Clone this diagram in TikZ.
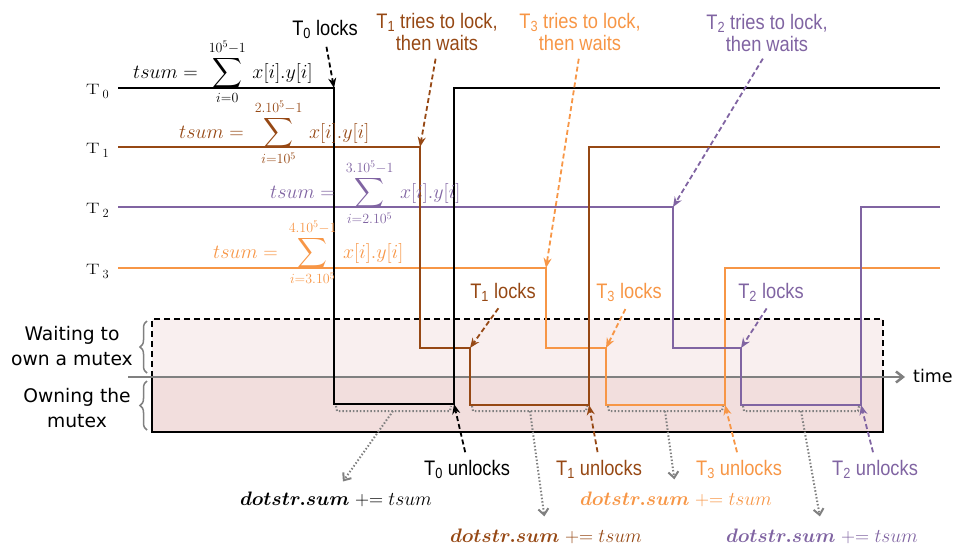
\RequirePackage{fix-cm}
\documentclass[tikz,border=0pt]{standalone}
\usepackage{amsmath}
\usepackage{bm}
\usepackage{fontspec}
\usetikzlibrary{arrows.meta,decorations.pathreplacing}
\newfontfamily\lblfont[FakeStretch=0.87]{Liberation Sans}
\newfontfamily\dvfont{DejaVu Sans}
\definecolor{tbrown}{HTML}{964814}
\definecolor{tpurple}{HTML}{8064A2}
\definecolor{torange}{HTML}{F79646}
\definecolor{waitfill}{HTML}{F9EFEF}
\definecolor{ownfill}{HTML}{F2DEDD}
\definecolor{axgray}{HTML}{808080}
\newcommand{\tlab}[1]{\scalebox{1.35}[1]{T}\hspace{3pt}\raisebox{-4pt}{\fontsize{12.5}{14}\selectfont #1}}
\newcommand{\dsumtxt}{$\bm{dotstr.sum}\mathrel{+}\mathrel{=}tsum$}
\begin{document}
\begin{tikzpicture}[x=1pt,y=-1pt,
  thr/.style={line width=2pt, line join=miter},
  lbl/.style={font=\lblfont\fontsize{21}{22}\selectfont, inner sep=0pt, align=center},
  lead/.style={line width=1.8pt, dash pattern=on 5pt off 3pt, -{Stealth[length=10pt,width=8pt]}, shorten <=8pt},
  dotbr/.style={axgray, line width=2pt, dash pattern=on 1.5pt off 2pt},
  dotarr/.style={dotbr, -{Straight Barb[length=6pt,width=10pt]}, shorten >=12pt},
  fml/.style={font=\fontsize{20}{24}\selectfont, inner sep=0pt, anchor=base west},
  dsum/.style={font=\fontsize{19.5}{22}\selectfont, inner sep=0pt, anchor=base},
  tlbl/.style={font=\fontsize{15}{16}\selectfont, anchor=base west, inner sep=0pt},
  sidelbl/.style={font=\dvfont\fontsize{18.7}{25}\selectfont, align=center, anchor=north, inner sep=0pt},
  brc/.style={axgray, line width=1.5pt, decorate, decoration={brace, amplitude=7pt}},
  axisln/.style={axgray, line width=2.5pt, -{Straight Barb[length=7pt,width=11pt]}, shorten >=8pt}
]
\useasboundingbox (0,0) rectangle (958,544);

% state boxes
\fill[waitfill] (152,319) rectangle (883,377);
\fill[ownfill] (152,377) rectangle (883,432);
\draw[line width=2pt, dash pattern=on 6pt off 4pt] (152,377) -- (152,319) -- (883,319) -- (883,377);
\draw[line width=2pt] (152,377) -- (152,432) -- (883,432) -- (883,377);

% braces and side labels
\draw[brc] (147,373) -- (147,321);
\draw[brc] (147,430) -- (147,381);
\node[sidelbl] (waitlbl) at (72,326) {Waiting to\\own a mutex};
\node[sidelbl] (ownlbl) at (77,388) {Owning the\\mutex};

% time axis
\coordinate (axs) at (128,377);
\node[font=\dvfont\fontsize{17.5}{20}\selectfont, anchor=base west, inner sep=0pt] (timelbl) at (913,382) {time};
\draw[axisln] (axs) -- (axs -| timelbl.west);

% corner coordinates
\coordinate (t0lock) at (334,88);
\coordinate (t0unl) at (454,404);
\coordinate (t1try) at (420,147);
\coordinate (t1lock) at (470,348);
\coordinate (t1unl) at (589,405);
\coordinate (t2try) at (673,207);
\coordinate (t2lock) at (741,348);
\coordinate (t2unl) at (861,405);
\coordinate (t3try) at (546,268);
\coordinate (t3lock) at (606,348);
\coordinate (t3unl) at (725,405);

% thread labels
\node[tlbl] (l0) at (86,94) {\tlab{0}};
\node[tlbl] (l1) at (86,153) {\tlab{1}};
\node[tlbl] (l2) at (86,213) {\tlab{2}};
\node[tlbl] (l3) at (86,274) {\tlab{3}};

% thread timelines
\draw[thr, torange] (118,268) -- (t3try) -- (t3lock -| t3try) -- (t3lock) -- (606,405) -- (t3unl) -- (725,268) -- (940,268);
\draw[thr, tpurple] (118,207) -- (t2try) -- (t2lock -| t2try) -- (t2lock) -- (741,405) -- (t2unl) -- (861,207) -- (940,207);
\draw[thr, tbrown] (118,147) -- (t1try) -- (t1lock -| t1try) -- (t1lock) -- (470,405) -- (t1unl) -- (589,147) -- (940,147);
\draw[thr, black] (118,88) -- (t0lock) -- (334,404) -- (t0unl) -- (454,88) -- (940,88);

% formulas
\node[fml, text=black] (f0) at (133,78) {$\displaystyle tsum = \;\sum_{i=0}^{10^5-1}\, x[i].y[i]$};
\node[fml, text=tbrown] (f1) at (179,138) {$\displaystyle tsum = \;\sum_{i=10^5}^{2.10^5-1}\, x[i].y[i]$};
\node[fml, text=tpurple] (f2) at (270,198) {$\displaystyle tsum = \;\sum_{i=2.10^5}^{3.10^5-1}\, x[i].y[i]$};
\node[fml, text=torange] (f3) at (213,258) {$\displaystyle tsum = \;\sum_{i=3.10^5}^{4.10^5-1}\, x[i].y[i]$};

% top labels
\node[lbl, anchor=north, text=black] (lk0) at (325,20) {T\textsubscript{0} locks};
\node[lbl, anchor=north, text=tbrown] (tr1) at (437,13) {T\textsubscript{1} tries to lock,\\then waits};
\node[lbl, anchor=north, text=torange] (tr3) at (580,13) {T\textsubscript{3} tries to lock,\\then waits};
\node[lbl, anchor=north, text=tpurple] (tr2) at (767,14) {T\textsubscript{2} tries to lock,\\then waits};
\draw[lead, black] (lk0.south) -- (t0lock);
\draw[lead, tbrown] (tr1.south) -- (t1try);
\draw[lead, torange] (tr3.south) -- (t3try);
\draw[lead, tpurple] (tr2.south) -- (t2try);

% lock labels
\node[lbl, anchor=north, text=tbrown] (lk1) at (503,283) {T\textsubscript{1} locks};
\node[lbl, anchor=north, text=torange] (lk3) at (629,283) {T\textsubscript{3} locks};
\node[lbl, anchor=north, text=tpurple] (lk2) at (771,283) {T\textsubscript{2} locks};
\draw[lead, tbrown] (lk1.south) -- (t1lock);
\draw[lead, torange] (lk3.south) -- (t3lock);
\draw[lead, tpurple] (lk2.south) -- (t2lock);

% unlock labels
\node[lbl, anchor=north, text=black] (ul0) at (467,460) {T\textsubscript{0} unlocks};
\node[lbl, anchor=north, text=tbrown] (ul1) at (599,460) {T\textsubscript{1} unlocks};
\node[lbl, anchor=north, text=torange] (ul3) at (739,460) {T\textsubscript{3} unlocks};
\node[lbl, anchor=north, text=tpurple] (ul2) at (875,460) {T\textsubscript{2} unlocks};
\draw[lead, black] (ul0.north) -- (t0unl);
\draw[lead, tbrown] (ul1.north) -- (t1unl);
\draw[lead, torange] (ul3.north) -- (t3unl);
\draw[lead, tpurple] (ul2.north) -- (t2unl);

% owning-interval brackets
\draw[dotbr] (336,406) -- (337,411) -- (450,411) -- (451,406);
\draw[dotbr] (472,406) -- (473,411) -- (586,411) -- (587,406);
\draw[dotbr] (608,406) -- (609,411) -- (722,411) -- (723,406);
\draw[dotbr] (743,406) -- (744,411) -- (858,411) -- (859,406);
\coordinate (b0) at (393,411);
\coordinate (b1) at (530,411);
\coordinate (b3) at (665,411);
\coordinate (b2) at (801,411);

% accumulation labels
\node[dsum, text=black] (ds0) at (336,505) {\dsumtxt};
\node[dsum, text=tbrown] (ds1) at (546,542) {\dsumtxt};
\node[dsum, text=torange] (ds3) at (676,505) {\dsumtxt};
\node[dsum, text=tpurple] (ds2) at (822,542) {\dsumtxt};
\draw[dotarr] (b0) -- (ds0.north);
\draw[dotarr] (b1) -- (ds1.north);
\draw[dotarr] (b3) -- (ds3.north);
\draw[dotarr] (b2) -- (ds2.north);
\end{tikzpicture}
\end{document}
